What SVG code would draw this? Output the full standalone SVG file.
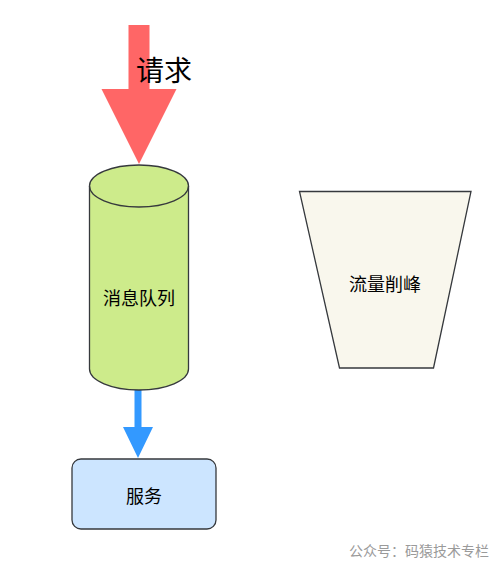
<svg xmlns="http://www.w3.org/2000/svg" width="500" height="572" viewBox="0 0 500 572">
<style>
.t{font-family:"Noto Sans CJK SC","Liberation Serif",serif;fill:#000;text-anchor:middle;dominant-baseline:central}
.s{stroke:#36393d;stroke-width:1.3}
</style>
<rect width="500" height="572" fill="#fff"/>
<g id="connectors">
<path d="M128.5,25 H149.5 V89 H176.5 L139,164 L101.5,89 H128.5 Z" fill="#ff6666"/>
<path d="M134.5,388 H141.5 V427 H153 L138,458 L123,427 H134.5 Z" fill="#3399ff"/>
</g>
<g id="label-request">
<text class="t" x="164" y="69" font-size="28">请求</text>
</g>
<g id="mq">
<path class="s" d="M89.5,186 A49.5,21 0 0 1 188.5,186 V369 A49.5,21 0 0 1 89.5,369 Z" fill="#cdeb8b"/>
<path class="s" d="M89.5,186 A49.5,21 0 0 0 188.5,186" fill="none"/>
<text class="t" x="139" y="297" font-size="18">消息队列</text>
</g>
<g id="service">
<rect class="s" x="72" y="459" width="144" height="70" rx="9" fill="#cce5ff"/>
<text class="t" x="144" y="495" font-size="18">服务</text>
</g>
<g id="peak">
<path class="s" d="M299.5,191.5 H471 L433.5,368 H339.5 Z" fill="#f9f7ed"/>
<text class="t" x="385" y="283" font-size="18">流量削峰</text>
</g>
<g id="watermark">
<text x="489" y="556" font-size="14" text-anchor="end" fill="#9a9a9a" style="font-family:'Noto Sans CJK SC','Liberation Sans',sans-serif">公众号：码猿技术专栏</text>
</g>
</svg>
